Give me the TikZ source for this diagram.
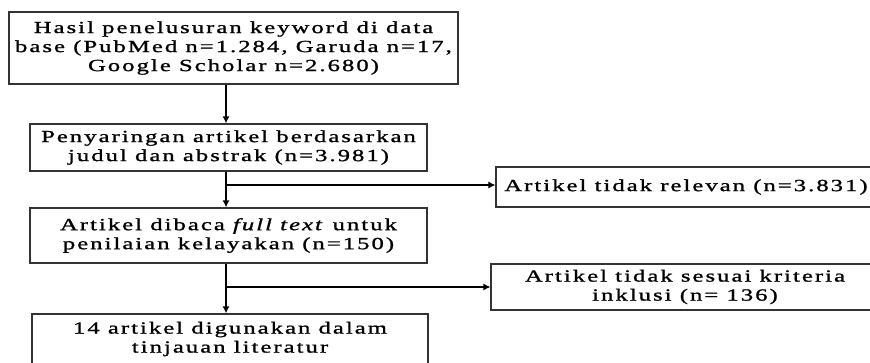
\documentclass[tikz,border=0pt]{standalone}
\usepackage{fontspec}
\setmainfont{Liberation Serif}[FakeStretch=1.45,LetterSpace=12,FakeBold=1.2]
\usetikzlibrary{
    arrows.meta,
    positioning
}

\begin{document}
\begin{tikzpicture}[
        x=1pt, y=-1pt,
        >={Latex[length=7pt,width=7pt]},
        flowbox/.style={draw=black!80, line width=1.2pt, inner sep=0pt, align=center, font=\fontsize{17}{19}\selectfont},
    ]
    \useasboundingbox (0,0) rectangle (870,362);
    \clip (0,0) rectangle (870,362);

    \begin{scope}
        \node[flowbox, minimum width=449pt, minimum height=72pt] (prisma_search) at (233.5,48) {Hasil penelusuran keyword di data\\base (PubMed n=1.284, Garuda n=17,\\Google Scholar n=2.680)};
        \node[flowbox, minimum width=397pt, minimum height=47pt] (prisma_screen) at (228.5,147.5) {Penyaringan artikel berdasarkan\\judul dan abstrak (n=3.981)};
        \node[flowbox, minimum width=397pt, minimum height=55pt] (prisma_full) at (228.5,235.5) {Artikel dibaca \textit{full text} untuk\\penilaian kelayakan (n=150)};
        \node[flowbox, minimum width=396pt, minimum height=50pt] (prisma_incl) at (230,339) {14 artikel digunakan dalam\\tinjauan literatur};
        \node[flowbox, minimum width=380pt, minimum height=40pt] (prisma_irrel) at (686,187) {Artikel tidak relevan (n=3.831)};
        \node[flowbox, minimum width=388pt, minimum height=46pt] (prisma_excl) at (685,287) {Artikel tidak sesuai kriteria\\inklusi (n= 136)};
        \coordinate (spine) at (226,0);
        \coordinate (branch_a) at (226,185);
        \coordinate (branch_b) at (226,287);
    \end{scope}

    \begin{scope} [every edge/.style={draw=black, line width=1.4pt}]
        \path [->] (prisma_search.south -| spine) edge (prisma_screen.north -| spine);
        \path [->] (prisma_screen.south -| spine) edge (prisma_full.north -| spine);
        \path [->] (prisma_full.south -| spine) edge (prisma_incl.north -| spine);
        \path [->] (branch_a) edge[line width=1.1pt] (prisma_irrel.west |- branch_a);
        \path [->] (branch_b) edge[line width=1.1pt] (prisma_excl.west |- branch_b);
    \end{scope}
\end{tikzpicture}
\end{document}
